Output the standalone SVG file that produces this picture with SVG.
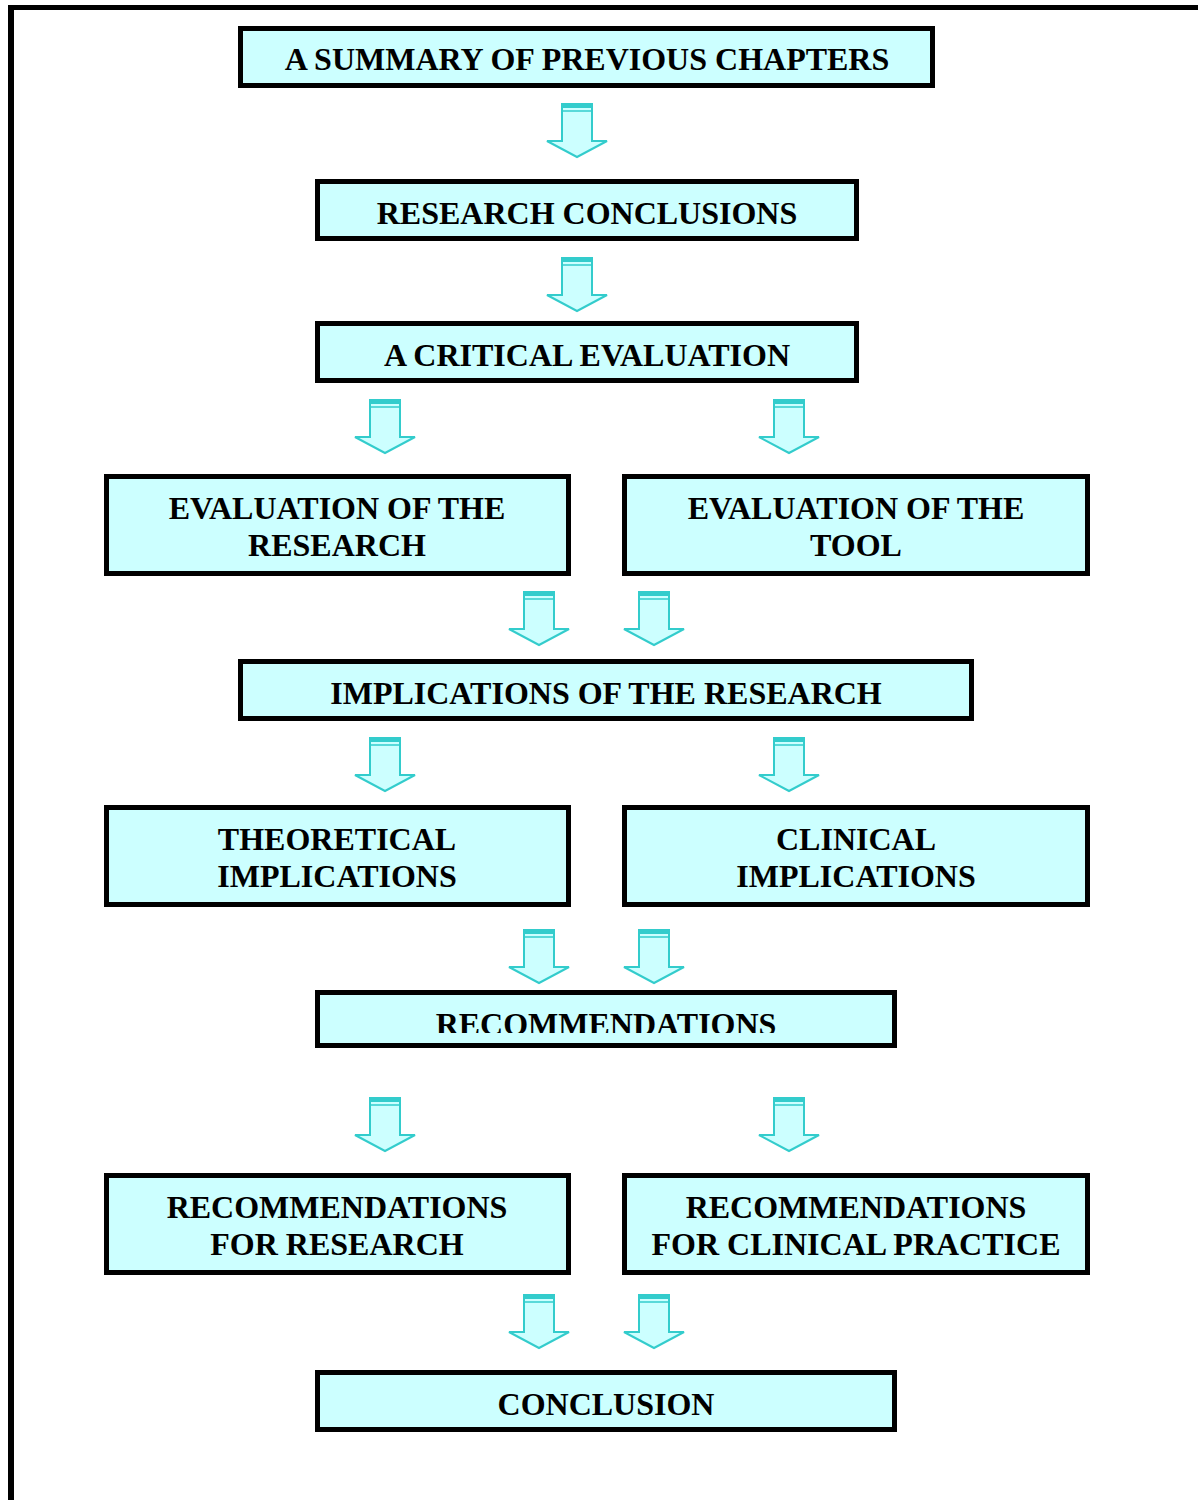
<svg xmlns="http://www.w3.org/2000/svg" width="1198" height="1500" viewBox="0 0 1198 1500">
<style>
.box{fill:#CCFFFF;stroke:#000;stroke-width:5}
.t{font-family:"Liberation Serif","Times New Roman","DejaVu Serif",serif;font-weight:bold;font-size:32px;text-anchor:middle;fill:#000}
.arr{fill:#CCFFFF;stroke:#33CCCC;stroke-width:2;stroke-linejoin:miter}
.band{fill:#33CCCC}
.frame{stroke:#000;fill:none}
</style>
<defs>
<g id="arrow">
<path class="arr" d="M-15,0 H15 V37 H30 L0,53 L-30,37 H-15 Z"/>
<rect class="band" x="-15" y="0" width="30" height="4"/>
<line x1="-15" y1="7" x2="15" y2="7" stroke="#33CCCC" stroke-width="1.5"/>
</g>
<clipPath id="recclip"><rect x="318" y="993" width="576" height="40"/></clipPath>
</defs>
<rect width="1198" height="1500" fill="#fff"/>
<line class="frame" x1="11" y1="1500" x2="11" y2="5" stroke-width="6"/>
<line class="frame" x1="8" y1="7.5" x2="1198" y2="7.5" stroke-width="5"/>
<g id="connectors">
<use href="#arrow" x="577" y="104"/>
<use href="#arrow" x="577" y="258"/>
<use href="#arrow" x="385" y="400"/>
<use href="#arrow" x="789" y="400"/>
<use href="#arrow" x="539" y="592"/>
<use href="#arrow" x="654" y="592"/>
<use href="#arrow" x="385" y="738"/>
<use href="#arrow" x="789" y="738"/>
<use href="#arrow" x="539" y="930"/>
<use href="#arrow" x="654" y="930"/>
<use href="#arrow" x="385" y="1098"/>
<use href="#arrow" x="789" y="1098"/>
<use href="#arrow" x="539" y="1295"/>
<use href="#arrow" x="654" y="1295"/>
</g>
<g id="n1"><rect class="box" x="240.5" y="28.5" width="692" height="57"/><text class="t" x="587" y="70">A SUMMARY OF PREVIOUS CHAPTERS</text></g>
<g id="n2"><rect class="box" x="317.5" y="181.5" width="539" height="57"/><text class="t" x="587" y="224">RESEARCH CONCLUSIONS</text></g>
<g id="n3"><rect class="box" x="317.5" y="323.5" width="539" height="57"/><text class="t" x="587" y="366">A CRITICAL EVALUATION</text></g>
<g id="n4"><rect class="box" x="106.5" y="476.5" width="462" height="97"/><text class="t" x="337" y="519">EVALUATION OF THE</text><text class="t" x="337" y="556">RESEARCH</text></g>
<g id="n5"><rect class="box" x="624.5" y="476.5" width="463" height="97"/><text class="t" x="856" y="519">EVALUATION OF THE</text><text class="t" x="856" y="556">TOOL</text></g>
<g id="n6"><rect class="box" x="240.5" y="661.5" width="731" height="57"/><text class="t" x="606" y="704">IMPLICATIONS OF THE RESEARCH</text></g>
<g id="n7"><rect class="box" x="106.5" y="807.5" width="462" height="97"/><text class="t" x="337" y="850">THEORETICAL</text><text class="t" x="337" y="887">IMPLICATIONS</text></g>
<g id="n8"><rect class="box" x="624.5" y="807.5" width="463" height="97"/><text class="t" x="856" y="850">CLINICAL</text><text class="t" x="856" y="887">IMPLICATIONS</text></g>
<g id="n9"><rect class="box" x="317.5" y="992.5" width="577" height="53"/><text class="t" x="606" y="1035" clip-path="url(#recclip)">RECOMMENDATIONS</text></g>
<g id="n10"><rect class="box" x="106.5" y="1175.5" width="462" height="97"/><text class="t" x="337" y="1218">RECOMMENDATIONS</text><text class="t" x="337" y="1255">FOR RESEARCH</text></g>
<g id="n11"><rect class="box" x="624.5" y="1175.5" width="463" height="97"/><text class="t" x="856" y="1218">RECOMMENDATIONS</text><text class="t" x="856" y="1255">FOR CLINICAL PRACTICE</text></g>
<g id="n12"><rect class="box" x="317.5" y="1372.5" width="577" height="57"/><text class="t" x="606" y="1415">CONCLUSION</text></g>
</svg>
